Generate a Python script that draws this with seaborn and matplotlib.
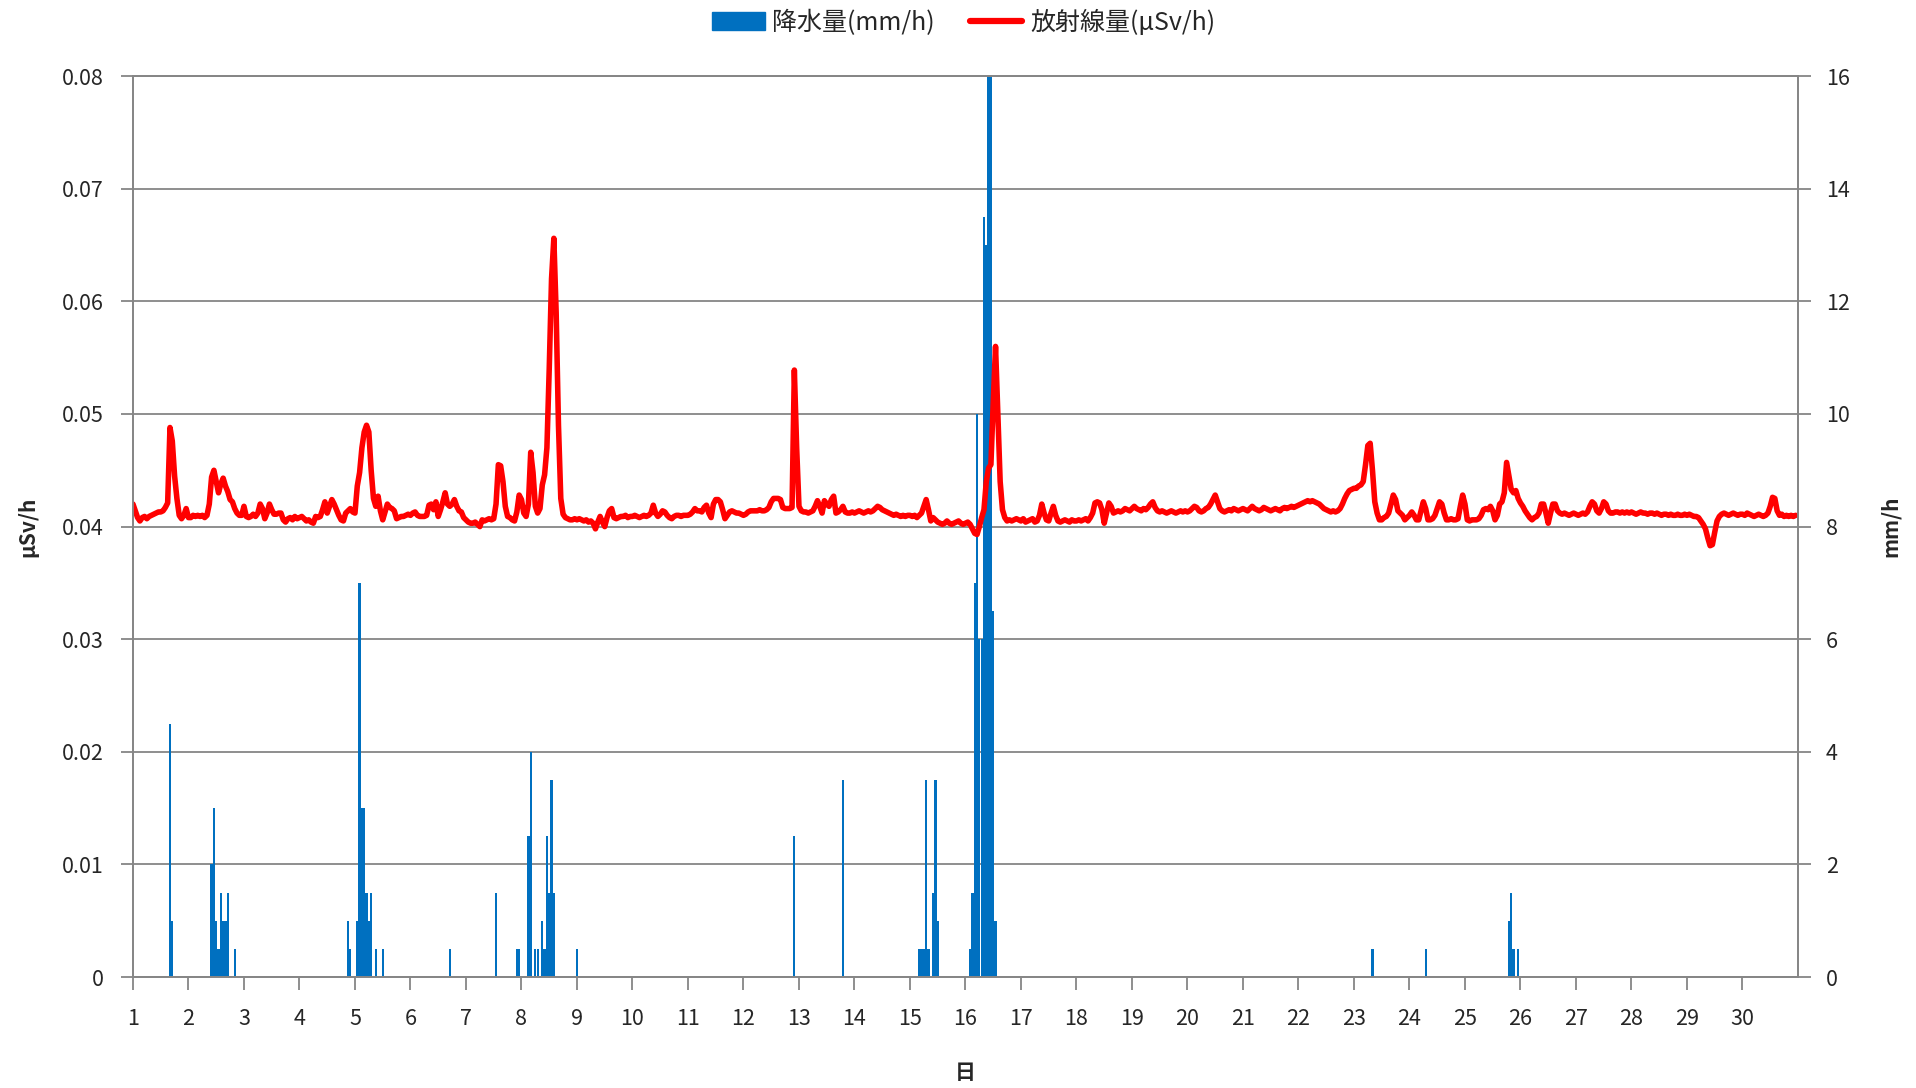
import numpy as np
import pandas as pd
import matplotlib
matplotlib.use("Agg")
import matplotlib.pyplot as plt
import seaborn as sns
from matplotlib.patches import Patch
from matplotlib.lines import Line2D

# hourly dose rate in 1e-4 uSv/h, one row per day (1..30)
dose_e4 = [
    420, 414, 408, 405, 408, 409, 407, 409, 410, 411, 412, 413, 413, 414, 417, 421, 488, 476, 445, 425, 410, 407, 410, 416,
    408, 408, 410, 409, 410, 409, 410, 408, 410, 420, 444, 450, 440, 430, 438, 443, 436, 431, 424, 422, 416, 412, 410, 410,
    418, 409, 408, 409, 411, 409, 412, 420, 416, 407, 412, 420, 415, 411, 411, 412, 412, 406, 404, 407, 408, 406, 409, 407,
    408, 409, 407, 405, 406, 404, 403, 409, 408, 409, 415, 422, 412, 418, 424, 420, 415, 410, 406, 405, 412, 414, 416, 413,
    412, 436, 448, 470, 484, 490, 484, 450, 425, 418, 427, 414, 406, 413, 420, 417, 416, 414, 407, 408, 409, 409, 410, 411,
    410, 412, 413, 410, 409, 409, 409, 410, 419, 420, 415, 422, 409, 415, 422, 430, 420, 418, 420, 424, 418, 414, 413, 408,
    406, 404, 403, 403, 404, 402, 400, 406, 405, 406, 407, 406, 407, 420, 455, 454, 440, 418, 409, 408, 406, 405, 413, 428,
    424, 412, 409, 420, 466, 448, 418, 412, 416, 437, 446, 470, 540, 620, 656, 590, 490, 425, 411, 408, 407, 406, 406, 407,
    406, 407, 406, 405, 406, 404, 405, 403, 398, 404, 409, 404, 400, 408, 414, 416, 408, 407, 408, 409, 409, 410, 408, 409,
    409, 410, 409, 408, 409, 410, 409, 410, 412, 419, 412, 409, 411, 414, 413, 410, 408, 407, 409, 410, 410, 409, 410, 410,
    410, 411, 413, 416, 414, 414, 413, 417, 419, 412, 408, 420, 424, 424, 422, 415, 407, 410, 413, 414, 413, 412, 412, 411,
    410, 411, 413, 414, 414, 414, 414, 415, 414, 414, 415, 417, 422, 425, 425, 425, 424, 417, 416, 416, 416, 417, 539, 470,
    418, 414, 413, 413, 412, 413, 414, 418, 423, 418, 412, 423, 420, 418, 424, 427, 412, 413, 415, 418, 413, 412, 412, 413,
    412, 413, 414, 413, 412, 413, 414, 413, 414, 416, 418, 417, 415, 414, 413, 412, 411, 410, 411, 410, 409, 410, 409, 410,
    410, 409, 410, 408, 410, 412, 418, 424, 415, 405, 408, 406, 404, 403, 402, 403, 405, 403, 402, 403, 404, 405, 403, 402,
    403, 404, 402, 398, 394, 393, 400, 408, 415, 440, 452, 455, 510, 560, 500, 440, 415, 408, 405, 406, 405, 406, 407, 406,
    405, 407, 404, 405, 406, 407, 404, 405, 410, 420, 412, 406, 405, 412, 418, 410, 405, 404, 405, 406, 405, 404, 406, 405,
    405, 406, 405, 406, 407, 405, 408, 412, 421, 422, 421, 415, 403, 412, 421, 418, 412, 413, 414, 413, 414, 416, 415, 414,
    416, 418, 416, 415, 414, 416, 415, 417, 420, 422, 417, 414, 413, 414, 413, 412, 413, 414, 413, 412, 413, 414, 413, 414,
    413, 414, 416, 418, 417, 414, 413, 414, 416, 417, 420, 424, 428, 422, 416, 414, 413, 414, 415, 414, 416, 415, 414, 415,
    416, 415, 414, 416, 418, 416, 415, 414, 415, 417, 416, 415, 414, 415, 416, 415, 414, 416, 417, 416, 417, 418, 417, 418,
    419, 420, 421, 422, 423, 422, 423, 422, 421, 420, 418, 416, 415, 414, 413, 414, 413, 414, 416, 420, 425, 429, 432, 433,
    434, 434, 436, 437, 440, 455, 472, 474, 450, 422, 412, 406, 406, 408, 409, 412, 420, 428, 424, 414, 412, 410, 406, 408,
    410, 413, 410, 406, 406, 414, 422, 416, 406, 406, 407, 410, 416, 422, 420, 412, 406, 406, 407, 406, 406, 407, 418, 428,
    420, 406, 405, 406, 406, 406, 407, 410, 415, 416, 415, 418, 414, 406, 410, 420, 422, 430, 457, 445, 433, 430, 432, 425,
    421, 418, 414, 411, 408, 406, 408, 409, 412, 420, 420, 412, 403, 412, 420, 420, 414, 412, 411, 412, 411, 410, 411, 412,
    411, 410, 411, 412, 411, 413, 418, 422, 420, 414, 412, 416, 422, 420, 414, 412, 412, 413, 413, 412, 413, 412, 413, 412,
    413, 412, 411, 412, 413, 412, 412, 411, 412, 412, 411, 412, 411, 410, 411, 411, 410, 411, 410, 410, 411, 410, 410, 411,
    410, 411, 410, 409, 409, 408, 405, 402, 398, 390, 383, 384, 395, 405, 409, 411, 412, 411, 410, 411, 412, 411, 410, 411,
    411, 410, 412, 411, 410, 409, 410, 411, 410, 409, 410, 412, 418, 426, 425, 414, 410, 411, 409, 410, 409, 410, 409, 410,
]

# hours (counted from day 1, 0:00) with rain, and amount in mm/h
rain_hour = [16, 17, 34, 35, 36, 37, 38, 39, 40, 41, 44,
             93, 94, 97, 98, 99, 100, 101, 102, 103, 105, 108,
             137, 157, 166, 167, 171, 172, 174, 175, 177, 178, 179, 180, 181, 182, 192,
             286, 307,
             340, 341, 342, 343, 344, 346, 347, 348,
             362, 363, 364, 365, 366, 367, 368, 369, 370, 371, 372, 373,
             536, 559, 595, 596, 597, 599]
rain_mm = [4.5, 1.0, 2.0, 3.0, 1.0, 0.5, 1.5, 1.0, 1.0, 1.5, 0.5,
           1.0, 0.5, 1.0, 7.0, 3.0, 3.0, 1.5, 1.0, 1.5, 0.5, 0.5,
           0.5, 1.5, 0.5, 0.5, 2.5, 4.0, 0.5, 0.5, 1.0, 0.5, 2.5, 1.5, 3.5, 1.5, 0.5,
           2.5, 3.5,
           0.5, 0.5, 0.5, 3.5, 0.5, 1.5, 3.5, 1.0,
           0.5, 1.5, 7.0, 10.0, 6.0, 6.0, 13.5, 13.0, 18.0, 17.0, 6.5, 1.0,
           0.5, 0.5, 1.0, 1.5, 0.5, 0.5]

day_ticks = list(range(1, 31))
dose_ticks = [0, 0.01, 0.02, 0.03, 0.04, 0.05, 0.06, 0.07, 0.08]
dose_labels = ["0", "0.01", "0.02", "0.03", "0.04", "0.05", "0.06", "0.07", "0.08"]
rain_ticks = [0, 2, 4, 6, 8, 10, 12, 14, 16]

sns.set_theme(style="white")
plt.rcParams["font.family"] = ["Noto Sans CJK JP", "DejaVu Sans"]

hours = np.arange(len(dose_e4))
df = pd.DataFrame({"day": 1 + hours / 24, "dose": np.array(dose_e4) / 10000})
rain = pd.DataFrame({"day": 1 + np.array(rain_hour) / 24, "mm": rain_mm})

grey = "#868686"
fig = plt.figure(figsize=(19.16, 10.88), dpi=100)
ax = fig.add_axes([0.0694, 0.102, 0.869, 0.828])
ax2 = ax.twinx()

# rain bars on the right axis (drawn below)
ax2.bar(rain["day"], rain["mm"], width=0.95 / 24, color="#0070C0", linewidth=0)
ax2.set_ylim(0, 16)
ax2.set_yticks(rain_ticks)
ax2.grid(axis="y", color=grey, lw=1.3)
ax2.set_axisbelow(True)

# dose line on the left axis (drawn on top)
ax.set_zorder(ax2.get_zorder() + 1)
ax.patch.set_visible(False)
sns.lineplot(data=df, x="day", y="dose", ax=ax, color="#FF0000", lw=4,
             estimator=None, solid_joinstyle="round", solid_capstyle="round")
ax.set_xlim(1, 31)
ax.set_ylim(0, 0.08)
ax.set_yticks(dose_ticks)
ax.set_yticklabels(dose_labels)
ax.set_xticks(day_ticks)
ax.grid(False)

for a in (ax, ax2):
    for s in a.spines.values():
        s.set_color(grey)
        s.set_linewidth(1.3)
ax.tick_params(axis="x", bottom=True, length=9, width=1.3, color=grey,
               direction="out", labelsize=15.5, pad=13)
ax.tick_params(axis="y", left=True, length=9, width=1.3, color=grey,
               direction="out", labelsize=15.5, pad=12)
ax2.tick_params(axis="y", right=True, length=9, width=1.3, color=grey,
                direction="out", labelsize=15.5, pad=11)

ax.set_xlabel("日", fontsize=15, fontweight="bold")
ax.xaxis.set_label_coords(0.5, -0.094)
ax.set_ylabel("μSv/h", fontsize=15, fontweight="bold")
ax.yaxis.set_label_coords(-0.057, 0.5)
ax2.set_ylabel("mm/h", fontsize=15, fontweight="bold", rotation=90)
ax2.yaxis.set_label_coords(1.049, 0.5)

handles = [Patch(color="#0070C0", label="降水量(mm/h)"),
           Line2D([], [], color="#FF0000", lw=4.5, label="放射線量(μSv/h)")]
fig.legend(handles=handles, loc="center", bbox_to_anchor=(0.503, 0.979), ncol=2,
           frameon=False, fontsize=18, handlelength=2.1, columnspacing=1.4,
           handletextpad=0.3)

fig.savefig("out.png", dpi=100)
